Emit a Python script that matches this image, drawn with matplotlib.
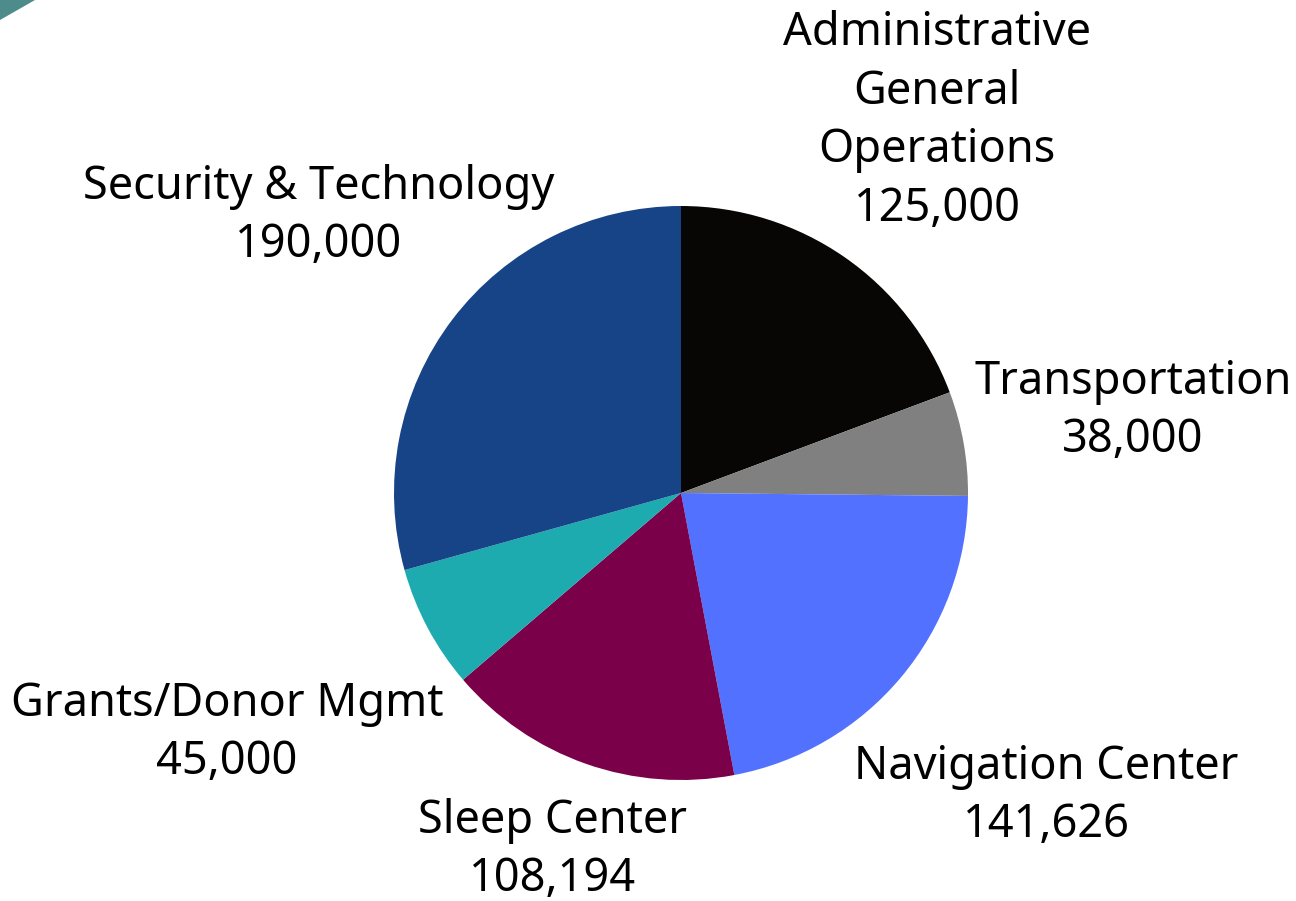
import matplotlib
matplotlib.use('Agg')
from matplotlib import pyplot as plt
from matplotlib.patches import Polygon

labels = ['Administrative\nGeneral\nOperations', 'Transportation', 'Navigation Center',
          'Sleep Center', 'Grants/Donor Mgmt', 'Security & Technology']
values = [125000, 38000, 141626, 108194, 45000, 190000]
colors = ['#070605', '#808080', '#5271ff', '#7a0049', '#1dabb0', '#174487']

# label centres, in pixels of the 1296x901 picture
label_px = [(937, 121), (1133, 411), (1046, 796), (553, 850), (227, 733), (319, 216)]

W, H = 1296, 901
cx, cy, r = 681, 493, 287

plt.rcParams['font.family'] = ['Noto Sans', 'DejaVu Sans']

fig = plt.figure(figsize=(W / 100, H / 100), dpi=100)
ax = fig.add_axes([0, 0, 1, 1])

ax.pie(values, colors=colors, startangle=90, counterclock=False, radius=1,
       wedgeprops={'linewidth': 0})

ax.set_xlim(-cx / r, (W - cx) / r)
ax.set_ylim(-(H - cy) / r, cy / r)
ax.set_aspect('equal')
ax.axis('off')

for lab, v, (px, py) in zip(labels, values, label_px):
    ax.text((px - cx) / r, (cy - py) / r, '{}\n{:,}'.format(lab, v),
            ha='center', va='center', fontsize=32.5, linespacing=1.36, color='#000000')

# teal corner decoration
fig.patches.append(Polygon([(0, 1), (35 / W, 1), (0, 1 - 20 / H)], closed=True,
                           transform=fig.transFigure, facecolor='#4d8c8a', edgecolor='none'))

fig.savefig('out.png', dpi=100, facecolor='white')
